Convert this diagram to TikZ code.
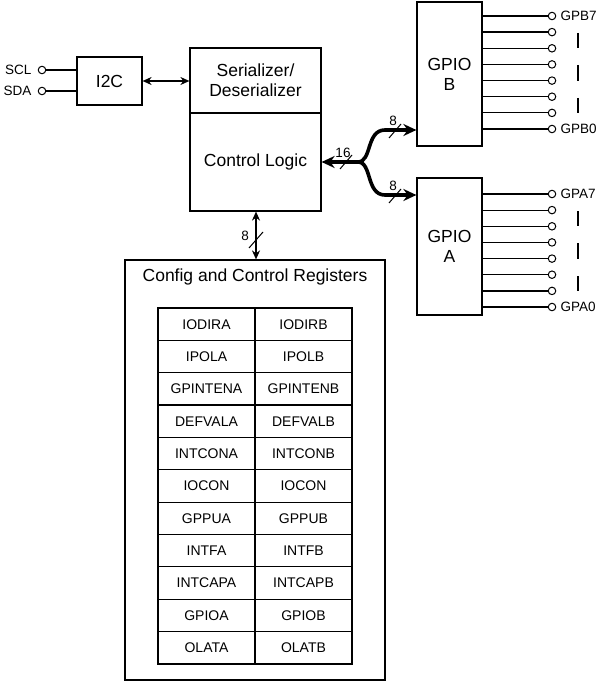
\documentclass[tikz,border=0pt]{standalone}
\usepackage{fontspec}
\setmainfont{Liberation Sans}
\usetikzlibrary{arrows.meta}
\begin{document}
\begin{tikzpicture}[x=1pt,y=-1pt,
  box/.style={draw,line width=1.2pt,inner sep=0pt},
  big/.style={font=\fontsize{17.5}{20}\selectfont},
  small/.style={font=\fontsize{13.5}{16}\selectfont},
  regcell/.style={draw,line width=1.2pt,minimum width=97pt,minimum height=32.36pt,inner sep=0pt,font=\fontsize{14}{16}\selectfont},
  pin/.style={draw,circle,line width=1pt,minimum size=7.5pt,inner sep=0pt,fill=white},
  wire/.style={line width=1.2pt},
  bus/.style={line width=3.6pt,-{Stealth[length=13pt,width=12pt]}},
  slash/.style={line width=1pt},
  tick/.style={line width=1.2pt}
]
\useasboundingbox (0,0) rectangle (600,682);

% I2C
\node[box,big,minimum width=65pt,minimum height=48pt] (i2c) at (109.5,81) {I2C};
\node[pin] (scl) at (42,70) {};
\node[pin] (sda) at (42,91) {};
\node[small,anchor=east] (scllab) at (35,70) {SCL};
\node[small,anchor=east] (sdalab) at (35,91) {SDA};
\draw[wire] (scl) -- (scl -| i2c.west);
\draw[wire] (sda) -- (sda -| i2c.west);

% Serializer / Control logic
\node[box,big,minimum width=131pt,minimum height=65pt,align=center] (ser) at (255.5,80.5) {Serializer/\\Deserializer};
\node[box,big,minimum width=131pt,minimum height=98pt] (ctl) at (255.5,162) {Control Logic};
\draw[line width=1.4pt,{Stealth[length=9pt,width=8pt]}-{Stealth[length=9pt,width=8pt]}] (i2c.east) -- (i2c.east -| ser.west);

% GPIO boxes
\node[box,big,minimum width=65pt,minimum height=144pt,align=center] (gpb) at (449.5,74) {GPIO\\B};
\node[box,big,minimum width=65pt,minimum height=137pt,align=center] (gpa) at (449.5,246.5) {GPIO\\A};

% GPIO B pins
\foreach \i/\y in {7/16,6/32.1,5/48.3,4/64.4,3/80.6,2/96.7,1/112.9,0/129} {
  \node[pin] (pb\i) at (552,\y) {};
  \draw[wire] (gpb.east |- pb\i) -- (pb\i);
}
\node[small,anchor=west] (pb7lab) at (557,16) {GPB7};
\node[small,anchor=west] (pb0lab) at (557,129) {GPB0};
\foreach \a/\b in {33/48,65/81,98/113} \draw[tick] (578,\a) -- (578,\b);

% GPIO A pins
\foreach \i/\y in {7/194,6/210.1,5/226.3,4/242.4,3/258.6,2/274.7,1/290.9,0/307} {
  \node[pin] (pa\i) at (552,\y) {};
  \draw[wire] (gpa.east |- pa\i) -- (pa\i);
}
\node[small,anchor=west] (pa7lab) at (557,194) {GPA7};
\node[small,anchor=west] (pa0lab) at (557,307) {GPA0};
\foreach \a/\b in {211/226,243/259,276/291} \draw[tick] (578,\a) -- (578,\b);

% 16-bit bus split
\coordinate (split) at (358,162);
\coordinate (upB) at (385,130);
\coordinate (upA) at (385,195);
\draw[bus] (split) -- (ctl.east |- split);
\draw[bus] (split) .. controls (372,162) and (366,130) .. (upB) -- (gpb.west |- upB);
\draw[bus] (split) .. controls (372,162) and (366,195) .. (upA) -- (gpa.west |- upA);
\draw[slash] (340,169) -- (352,155);
\node[small] (n16) at (343,153) {16};
\draw[slash] (389,138) -- (401,124);
\node[small] (n8b) at (393,121) {8};
\draw[slash] (389,203) -- (401,189);
\node[small] (n8a) at (393,186) {8};

% Registers
\node[box,minimum width=260pt,minimum height=420pt] (regs) at (255,470) {};
\node[big] (regtitle) at (255,277) {Config and Control Registers};
\draw[line width=2pt,{Stealth[length=9pt,width=8pt]}-{Stealth[length=9pt,width=8pt]}] (ctl.south -| 256,0) -- (regs.north -| 256,0);
\draw[slash] (249,248) -- (263,232);
\node[small] (n8c) at (245,236) {8};

\foreach \l/\r [count=\k from 0] in {IODIRA/IODIRB,IPOLA/IPOLB,GPINTENA/GPINTENB,DEFVALA/DEFVALB,INTCONA/INTCONB,IOCON/IOCON,GPPUA/GPPUB,INTFA/INTFB,INTCAPA/INTCAPB,GPIOA/GPIOB,OLATA/OLATB} {
  \node[regcell] (l\k) at (206.5,{308+32.36*(\k+0.5)}) {\l};
  \node[regcell] (r\k) at (303.5,{308+32.36*(\k+0.5)}) {\r};
}
\end{tikzpicture}
\end{document}
